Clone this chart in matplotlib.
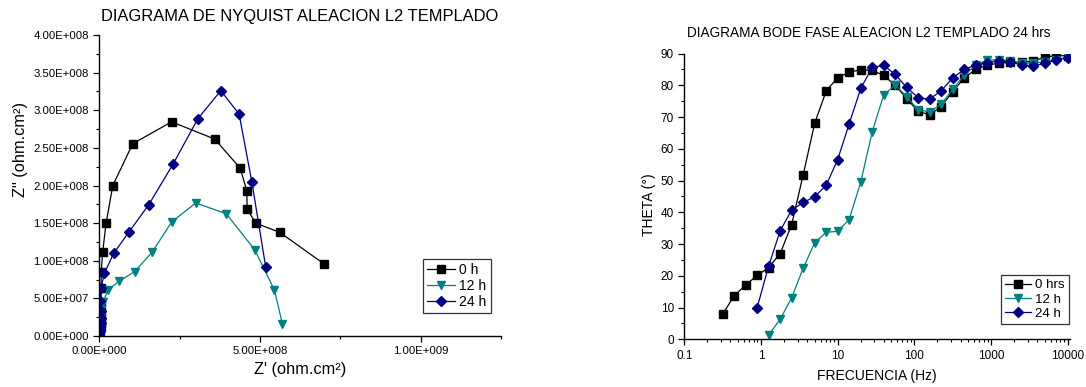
import math
import matplotlib
matplotlib.use("Agg")
import matplotlib.pyplot as plt
from matplotlib.ticker import FuncFormatter, MultipleLocator, LogLocator, NullFormatter, FixedLocator

plt.rcParams['font.family'] = ['Liberation Sans', 'DejaVu Sans']

# ---------------- Nyquist data (ohm.cm2), low frequency first ----------------
nyq_0h_re = [6.98e8, 5.62e8, 4.87e8, 4.60e8, 4.59e8, 4.38e8, 3.59e8, 2.25e8, 1.04e8,
             4.2e7, 2.1e7, 1.07e7, 6.0e6, 5.5e6, 5.5e6, 6.0e6, 6.0e6, 5.5e6, 4.0e6,
             2.5e6, 1.3e6, 6.0e5, 3.0e5, 1.5e5, 1.0e5, 6.0e4, 4.0e4, 3.0e4, 2.0e4,
             1.0e4, 1.0e4]
nyq_0h_im = [0.962e8, 1.376e8, 1.50e8, 1.687e8, 1.93e8, 2.233e8, 2.617e8, 2.846e8, 2.555e8,
             2.0e8, 1.496e8, 1.122e8, 0.855e8, 0.64e8, 0.45e8, 0.33e8, 0.24e8, 0.17e8,
             0.12e8, 0.087e8, 0.062e8, 0.044e8, 0.031e8, 0.022e8, 0.016e8, 0.011e8,
             0.008e8, 0.0057e8, 0.004e8, 0.0028e8, 0.002e8]

nyq_12h_re = [5.70e8, 5.45e8, 4.84e8, 3.95e8, 3.00e8, 2.25e8, 1.65e8, 1.10e8, 6.2e7,
              2.7e7, 1.2e7, 6.0e6, 6.0e6, 5.5e6, 4.0e6, 2.6e6, 1.4e6, 6.0e5, 3.0e5,
              1.2e5, 6.0e4, 4.0e4, 3.0e4, 2.0e4, 1.0e4, 1.0e4, 5.0e3]
nyq_12h_im = [0.156e8, 0.61e8, 1.144e8, 1.625e8, 1.768e8, 1.514e8, 1.118e8, 0.855e8, 0.73e8,
              0.61e8, 0.456e8, 0.34e8, 0.25e8, 0.18e8, 0.13e8, 0.095e8, 0.068e8, 0.049e8,
              0.035e8, 0.025e8, 0.018e8, 0.013e8, 0.009e8, 0.0065e8, 0.0046e8, 0.0033e8,
              0.0023e8]

nyq_24h_re = [5.18e8, 4.75e8, 4.35e8, 3.78e8, 3.07e8, 2.29e8, 1.54e8, 9.2e7, 4.5e7,
              1.6e7, 5.0e6, 3.0e6, 4.0e6, 4.0e6, 4.0e6, 3.0e6, 2.0e6, 1.0e6, 5.0e5,
              2.5e5, 1.3e5, 8.0e4, 6.0e4, 5.0e4, 4.0e4, 2.0e4, 1.5e4, 1.0e4]
nyq_24h_im = [0.913e8, 2.04e8, 2.95e8, 3.26e8, 2.89e8, 2.28e8, 1.745e8, 1.38e8, 1.10e8,
              0.837e8, 0.634e8, 0.46e8, 0.33e8, 0.24e8, 0.17e8, 0.125e8, 0.09e8, 0.065e8,
              0.047e8, 0.034e8, 0.024e8, 0.017e8, 0.012e8, 0.0088e8, 0.0063e8, 0.0045e8,
              0.0032e8, 0.0023e8]

# ---------------- Bode phase data ----------------
freq_0h = [0.316, 0.447, 0.631, 0.891, 1.26, 1.78, 2.51, 3.55, 5.01, 7.08, 10, 14.1,
           20, 28.2, 39.8, 56.2, 79.4, 112, 158, 224, 316, 447, 631, 891, 1259, 1778,
           2512, 3548, 5012, 7080, 10000]
theta_0h = [7.9, 13.7, 17.1, 20.1, 22.6, 27.0, 36.1, 51.8, 68.0, 78.2, 82.4, 84.1,
            84.9, 84.7, 83.1, 80.0, 75.8, 71.8, 70.7, 73.3, 78.0, 82.3, 85.0, 86.3,
            87.0, 87.2, 87.2, 87.6, 88.9, 89.3, 89.3]

freq_12h = [1.26, 1.78, 2.51, 3.55, 5.01, 7.08, 10, 14.1, 20, 28.2, 39.8, 56.2, 79.4,
            112, 158, 224, 316, 447, 631, 891, 1259, 1778, 2512, 3548, 5012, 7080, 10000]
theta_12h = [1.4, 6.3, 13.1, 22.4, 30.4, 33.7, 34.0, 37.7, 49.5, 65.4, 76.9, 80.1, 76.4,
             72.2, 71.7, 74.0, 78.7, 83.2, 86.3, 87.9, 88.1, 87.6, 87.1, 86.9, 87.4,
             88.0, 88.8]

freq_24h = [0.891, 1.26, 1.78, 2.51, 3.55, 5.01, 7.08, 10, 14.1, 20, 28.2, 39.8, 56.2,
            79.4, 112, 158, 224, 316, 447, 631, 891, 1259, 1778, 2512, 3548, 5012, 7080,
            10000]
theta_24h = [10.0, 23.1, 34.2, 40.7, 43.1, 44.9, 48.5, 56.6, 67.8, 79.0, 85.6, 86.3,
             83.4, 79.3, 76.1, 75.6, 78.3, 82.3, 85.0, 86.4, 87.1, 87.7, 87.4, 86.3,
             86.0, 86.9, 87.9, 88.7]

nyq_labels = ["0 h", "12 h", "24 h"]
bode_labels = ["0 hrs", "12 h", "24 h"]

c_black = "#000000"
c_teal = "#008080"
c_navy = "#000080"

W, H = 1086, 387
fig = plt.figure(figsize=(W / 100, H / 100), dpi=100)


def sci_fmt(v, pos):
    if v == 0:
        return "0.00E+000"
    e = int(math.floor(math.log10(abs(v))))
    m = v / 10 ** e
    return f"{m:.2f}E{e:+04d}"


def style_axes(ax, labelsize):
    for s in ("top", "right"):
        ax.spines[s].set_visible(False)
    for s in ("left", "bottom"):
        ax.spines[s].set_linewidth(1.0)
    ax.tick_params(which="major", direction="out", length=4, width=0.9, labelsize=labelsize)
    ax.tick_params(which="minor", direction="out", length=2.5, width=0.8)


# ---------------- Nyquist panel ----------------
ax1 = fig.add_axes([99.3 / W, 1 - 336 / H, (501 - 99.3) / W, (336 - 35) / H])
mk = dict(linewidth=0.9, markersize=5.5)
ax1.plot(nyq_0h_re, nyq_0h_im, "-s", color=c_black, label=nyq_labels[0], **mk)
ax1.plot(nyq_12h_re, nyq_12h_im, "-v", color=c_teal, label=nyq_labels[1], **mk)
ax1.plot(nyq_24h_re, nyq_24h_im, "-D", color=c_navy, label=nyq_labels[2],
         linewidth=0.9, markersize=5)
ax1.set_xlim(0, 1.25e9)
ax1.set_ylim(0, 4.0e8)
ax1.xaxis.set_major_locator(MultipleLocator(5e8))
ax1.xaxis.set_minor_locator(MultipleLocator(2.5e8))
ax1.yaxis.set_major_locator(MultipleLocator(5e7))
ax1.yaxis.set_minor_locator(MultipleLocator(2.5e7))
ax1.xaxis.set_major_formatter(FuncFormatter(sci_fmt))
ax1.yaxis.set_major_formatter(FuncFormatter(sci_fmt))
style_axes(ax1, 8.2)
ax1.set_xlabel("Z' (ohm.cm²)", fontsize=11.8, labelpad=4)
ax1.set_ylabel('Z" (ohm.cm²)', fontsize=11.8)
ax1.yaxis.set_label_coords(-0.177, 0.62)
fig.text(300 / W, 1 - 16 / H, "DIAGRAMA DE NYQUIST ALEACION L2 TEMPLADO",
         ha="center", va="center", fontsize=11.9)
leg1 = ax1.legend(loc="lower left", bbox_to_anchor=(0.806, 0.076), fontsize=10,
                  frameon=True, fancybox=False, edgecolor="black", handlelength=2.0,
                  borderpad=0.3, labelspacing=0.15, handletextpad=0.3, borderaxespad=0)
leg1.get_frame().set_linewidth(0.9)

# ---------------- Bode phase panel ----------------
ax2 = fig.add_axes([684.3 / W, 1 - 339.3 / H, (1070 - 684.3) / W, (339.3 - 53.5) / H])
ax2.plot(freq_0h, theta_0h, "-s", color=c_black, label=bode_labels[0], **mk)
ax2.plot(freq_12h, theta_12h, "-v", color=c_teal, label=bode_labels[1], **mk)
ax2.plot(freq_24h, theta_24h, "-D", color=c_navy, label=bode_labels[2],
         linewidth=0.9, markersize=5)
ax2.set_xscale("log")
ax2.set_xlim(0.1, 10700)
ax2.set_ylim(0, 90)
ax2.xaxis.set_major_locator(FixedLocator([0.1, 1, 10, 100, 1000, 10000]))
ax2.xaxis.set_minor_locator(LogLocator(base=10, subs=range(2, 10)))
ax2.xaxis.set_minor_formatter(NullFormatter())
ax2.xaxis.set_major_formatter(FuncFormatter(lambda v, p: f"{v:g}"))
ax2.yaxis.set_major_locator(MultipleLocator(10))
ax2.yaxis.set_minor_locator(MultipleLocator(5))
style_axes(ax2, 8.5)
ax2.set_xlabel("FRECUENCIA (Hz)", fontsize=10, labelpad=5)
ax2.set_ylabel("THETA (°)", fontsize=10)
ax2.yaxis.set_label_coords(-0.073, 0.47)
fig.text(869 / W, 1 - 33 / H, "DIAGRAMA BODE FASE ALEACION L2 TEMPLADO 24 hrs",
         ha="center", va="center", fontsize=9.8)
leg2 = ax2.legend(loc="lower left", bbox_to_anchor=(0.820, 0.054), fontsize=9.6,
                  frameon=True, fancybox=False, edgecolor="black", handlelength=2.0,
                  borderpad=0.3, labelspacing=0.15, handletextpad=0.3, borderaxespad=0)
leg2.get_frame().set_linewidth(0.9)

fig.savefig("out.png", dpi=100)
